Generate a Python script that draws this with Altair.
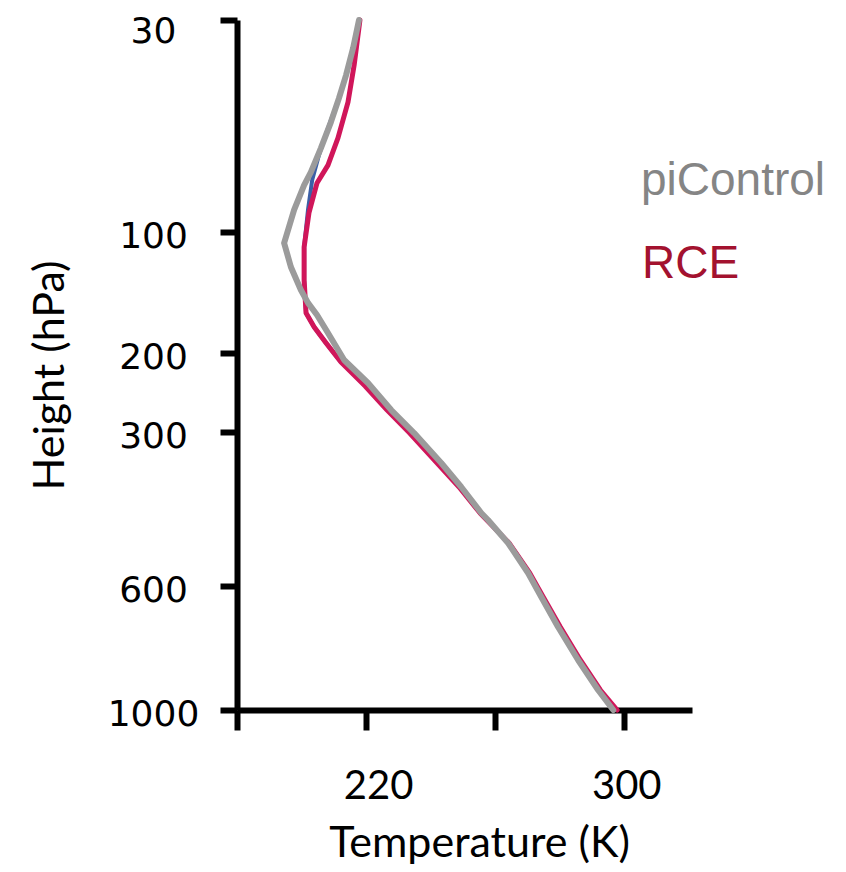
import altair as alt
import pandas as pd

# ---- data ----
grey_T = [217.8, 216.0, 213.8, 211.6, 209.1, 206.0, 202.9, 200.8, 197.7, 194.6,
          196.7, 199.8, 202.0, 204.8, 208.2, 213.2, 220.6, 227.8, 234.9, 243.3,
          249.5, 255.7, 257.8, 264.0, 270.2, 274.3, 279.5, 285.7, 291.9, 296.6]
grey_p = [30, 39.2, 48.2, 55.8, 63.7, 72.3, 80.2, 84.5, 92.7, 109.1,
          128.9, 147.9, 158.6, 168.6, 183.5, 208.9, 238.0, 272.2, 302, 360.4,
          407.1, 457.8, 471.4, 516.2, 574.7, 635.5, 732.3, 838.7, 935.5, 1000]

red_T = [218.1, 216.3, 214.4, 211.3, 208.2, 204.8, 202.3, 200.8, 200.8, 201.4,
         203.9, 207.6, 212.2, 219.7, 226.5, 233.5, 242.0, 248.8, 255.3,
         264.3, 270.7, 274.9, 280.2, 286.4, 292.6, 297.8]
red_p = [30, 44.9, 57.1, 68.9, 77.9, 83.8, 93.7, 112.4, 139.7, 167.0,
         178.5, 191.7, 211.4, 241.8, 272.2, 302, 360.4, 407.1, 457.8,
         516.2, 574.7, 635.5, 732.3, 838.7, 935.5, 1000]

blue_T = [217.8, 216.0, 213.8, 211.6, 208.2, 205.4, 203.3, 202.0, 200.8, 200.8,
          201.4, 203.9, 207.6, 212.2, 220.6, 227.8, 234.9, 243.3, 249.5,
          255.7, 264.0, 270.2, 274.3, 279.5, 285.7, 291.9, 296.6]
blue_p = [30, 39.2, 48.2, 55.8, 65.7, 74.6, 82.8, 92.7, 112.4, 139.7,
          167.0, 178.5, 191.7, 211.4, 238.0, 272.2, 302, 360.4, 407.1,
          457.8, 516.2, 574.7, 635.5, 732.3, 838.7, 935.5, 1000]

y_ticks = [30, 100, 200, 300, 600, 1000]
x_ticks = [180, 220, 260, 300]
x_labelled = [220, 300]

legend_labels = ["piControl", "RCE"]
legend_colors = ["#858585", "#a3122f"]

# ---- scales ----
y_scale = alt.Scale(type="linear", domain=y_ticks,
                    range=[0, 212, 333, 412, 566, 690], nice=False, zero=False)
x_scale = alt.Scale(domain=[180, 321], nice=False, zero=False)

x_axis = alt.Axis(
    values=x_ticks,
    labelExpr="indexof(" + str(x_labelled) + ", datum.value) >= 0 ? datum.label : ''",
    title="Temperature (K)",
    titleFont="Lato", titleFontSize=43, titleFontWeight="normal", titleColor="black",
    titleBaseline="alphabetic", titleX=242, titleY=146, titleAnchor="start",
    titleAlign="center",
    labelFont="Lato", labelFontSize=40, labelColor="black",
    labelBaseline="alphabetic", labelPadding=68,
    labelOffset={"condition": {"test": "datum.value == 220", "value": 12}, "value": 2},
    domainColor="black", domainWidth=6, tickColor="black", tickWidth=6, tickSize=20,
    grid=False, labelFlush=False, labelOverlap=False,
)
y_axis = alt.Axis(
    values=y_ticks, format="d",
    title="Height (hPa)",
    titleFont="Lato", titleFontSize=43, titleFontWeight="normal", titleColor="black",
    titleAngle=-90, titleBaseline="alphabetic", titleAlign="center",
    titleX=-174, titleY=355, titleAnchor="start",
    labelFont="DejaVu Sans", labelFontSize=36, labelColor="black",
    labelAlign="center", labelBaseline="middle", labelPadding=67,
    labelOffset={"condition": {"test": "datum.value == 30", "value": 11}, "value": 4},
    domainColor="black", domainWidth=6, tickColor="black", tickWidth=6, tickSize=17,
    grid=False, labelFlush=False, labelOverlap=False,
)


def series(T, p):
    return pd.DataFrame({"T": T, "p": p, "i": list(range(len(T)))})


def line(df, color, width):
    return alt.Chart(df).mark_line(
        color=color, strokeWidth=width, strokeJoin="round", strokeCap="round"
    ).encode(
        x=alt.X("T:Q", scale=x_scale, axis=x_axis),
        y=alt.Y("p:Q", scale=y_scale, axis=y_axis),
        order="i:Q",
    )


blue = line(series(blue_T, blue_p), "#3b5fa6", 4)
red = line(series(red_T, red_p), "#d0165a", 5)
grey = line(series(grey_T, grey_p), "#9b9b9b", 6)

leg_df = pd.DataFrame({"label": legend_labels, "color": legend_colors})
leg1 = alt.Chart(leg_df).transform_filter("datum.label == 'piControl'").mark_text(
    font="Liberation Sans", fontSize=46, align="left", baseline="alphabetic"
).encode(text="label:N", color=alt.Color("color:N", scale=None),
         x=alt.value(404), y=alt.value(175))
leg2 = alt.Chart(leg_df).transform_filter("datum.label == 'RCE'").mark_text(
    font="Liberation Sans", fontSize=46, align="left", baseline="alphabetic"
).encode(text="label:N", color=alt.Color("color:N", scale=None),
         x=alt.value(405), y=alt.value(258))

chart = alt.layer(blue, red, grey, leg1, leg2).properties(
    width=455, height=690,
    autosize=alt.AutoSizeParams(type="none"),
    padding={"left": 229, "top": 12, "right": 146, "bottom": 156},
    background="white",
).configure_view(stroke=None)

chart.save("out.html", embed_options={"renderer": "svg", "actions": False})
